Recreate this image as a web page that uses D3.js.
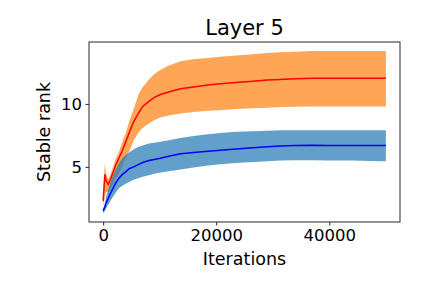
<!DOCTYPE html>
<html>
<head>
<meta charset="utf-8">
<script src="https://cdn.jsdelivr.net/npm/d3@7"></script>
<style>
  body { margin: 0; background: #fff; }
  svg { font-family: "DejaVu Sans", sans-serif; }
</style>
</head>
<body>
<script>
var iters = [0, 300, 500, 900, 1300, 2200, 2800, 3400, 4000, 4600, 5400, 6300, 7000, 8100, 9000, 10100, 11600, 13700, 16000, 18500, 20700, 23500, 26500, 29000, 31300, 34000, 37000, 40000, 44000, 47000, 50000];

// red curve (mean) and orange band
var redMean = [2.3, 4.4, 3.9, 3.6, 4.0, 5.1, 5.7, 6.3, 7.0, 7.7, 8.6, 9.3, 9.8, 10.2, 10.5, 10.75, 10.95, 11.2, 11.35, 11.5, 11.6, 11.7, 11.8, 11.9, 11.95, 12.0, 12.05, 12.05, 12.05, 12.05, 12.05];
var orangeHi = [2.7, 5.3, 4.5, 4.0, 4.4, 5.6, 6.2, 7.0, 7.7, 8.6, 9.6, 10.8, 11.35, 11.95, 12.35, 12.7, 13.05, 13.4, 13.55, 13.65, 13.75, 13.85, 13.95, 14.05, 14.1, 14.15, 14.2, 14.2, 14.2, 14.2, 14.2];
var orangeLo = [1.9, 2.6, 3.0, 3.0, 3.2, 4.1, 4.5, 5.1, 5.7, 6.2, 7.1, 7.75, 8.1, 8.45, 8.7, 8.92, 9.08, 9.24, 9.35, 9.45, 9.5, 9.6, 9.65, 9.7, 9.75, 9.78, 9.8, 9.8, 9.8, 9.8, 9.8];

// blue curve (mean) and blue band
var blueMean = [1.5, 1.8, 2.1, 2.5, 2.9, 3.7, 4.1, 4.4, 4.6, 4.85, 5.0, 5.2, 5.35, 5.5, 5.58, 5.68, 5.85, 6.05, 6.15, 6.25, 6.32, 6.42, 6.52, 6.6, 6.65, 6.7, 6.72, 6.7, 6.7, 6.7, 6.7];
var blueHi = [1.65, 2.1, 2.6, 3.2, 3.8, 4.8, 5.3, 5.7, 5.95, 6.15, 6.4, 6.6, 6.7, 6.85, 6.92, 7.0, 7.12, 7.3, 7.45, 7.6, 7.7, 7.78, 7.83, 7.87, 7.9, 7.9, 7.9, 7.9, 7.9, 7.9, 7.9];
var blueLo = [1.3, 1.5, 1.7, 2.0, 2.3, 2.95, 3.3, 3.5, 3.65, 3.8, 3.97, 4.12, 4.22, 4.34, 4.45, 4.55, 4.66, 4.8, 4.95, 5.1, 5.2, 5.3, 5.38, 5.45, 5.5, 5.52, 5.53, 5.5, 5.5, 5.47, 5.45];

var xTicks = [0, 20000, 40000];
var yTicks = [5, 10];

var W = 432, H = 288;
var margin = {left: 89, right: 400, top: 42, bottom: 222};

var svg = d3.select("body").append("svg")
  .attr("width", W)
  .attr("height", H);

var x = d3.scaleLinear().domain([-2500, 52500]).range([margin.left, margin.right]);
var y = d3.scaleLinear().domain([0.62, 14.92]).range([margin.bottom, margin.top]);

function band(lo, hi) {
  return d3.area()
    .x((d, i) => x(iters[i]))
    .y0((d, i) => y(lo[i]))
    .y1((d, i) => y(hi[i]))(iters);
}
function line(vals) {
  return d3.line()
    .x((d, i) => x(iters[i]))
    .y((d, i) => y(vals[i]))(iters);
}

// bands first, then mean lines on top
svg.append("path").attr("d", band(orangeLo, orangeHi)).attr("fill", "#ff7f0e").attr("fill-opacity", 0.7);
svg.append("path").attr("d", band(blueLo, blueHi)).attr("fill", "#1f77b4").attr("fill-opacity", 0.7);
svg.append("path").attr("d", line(redMean)).attr("fill", "none").attr("stroke", "red").attr("stroke-width", 1.5);
svg.append("path").attr("d", line(blueMean)).attr("fill", "none").attr("stroke", "blue").attr("stroke-width", 1.5);

// frame
svg.append("rect")
  .attr("x", margin.left).attr("y", margin.top)
  .attr("width", margin.right - margin.left).attr("height", margin.bottom - margin.top)
  .attr("fill", "none").attr("stroke", "#262626").attr("stroke-width", 1);

// axes
var xAxis = svg.append("g")
  .attr("transform", `translate(0,${margin.bottom})`)
  .call(d3.axisBottom(x).tickValues(xTicks).tickSize(3.5).tickPadding(3.5).tickFormat(d3.format("d")));
var yAxis = svg.append("g")
  .attr("transform", `translate(${margin.left},0)`)
  .call(d3.axisLeft(y).tickValues(yTicks).tickSize(3.5).tickPadding(3.5));

[xAxis, yAxis].forEach(function(a) {
  a.select(".domain").remove();
  a.selectAll("line").attr("stroke", "#262626");
  a.selectAll("text")
    .attr("fill", "#000")
    .style("font-family", "DejaVu Sans")
    .style("font-size", "16.5px");
});

// labels
svg.append("text")
  .attr("x", (margin.left + margin.right) / 2).attr("y", 35)
  .attr("text-anchor", "middle")
  .style("font-size", "21px")
  .text("Layer 5");

svg.append("text")
  .attr("x", (margin.left + margin.right) / 2).attr("y", 265)
  .attr("text-anchor", "middle")
  .style("font-size", "17.5px")
  .text("Iterations");

svg.append("text")
  .attr("transform", `translate(50,${(margin.top + margin.bottom) / 2}) rotate(-90)`)
  .attr("text-anchor", "middle")
  .style("font-size", "17.5px")
  .text("Stable rank");
</script>
</body>
</html>
